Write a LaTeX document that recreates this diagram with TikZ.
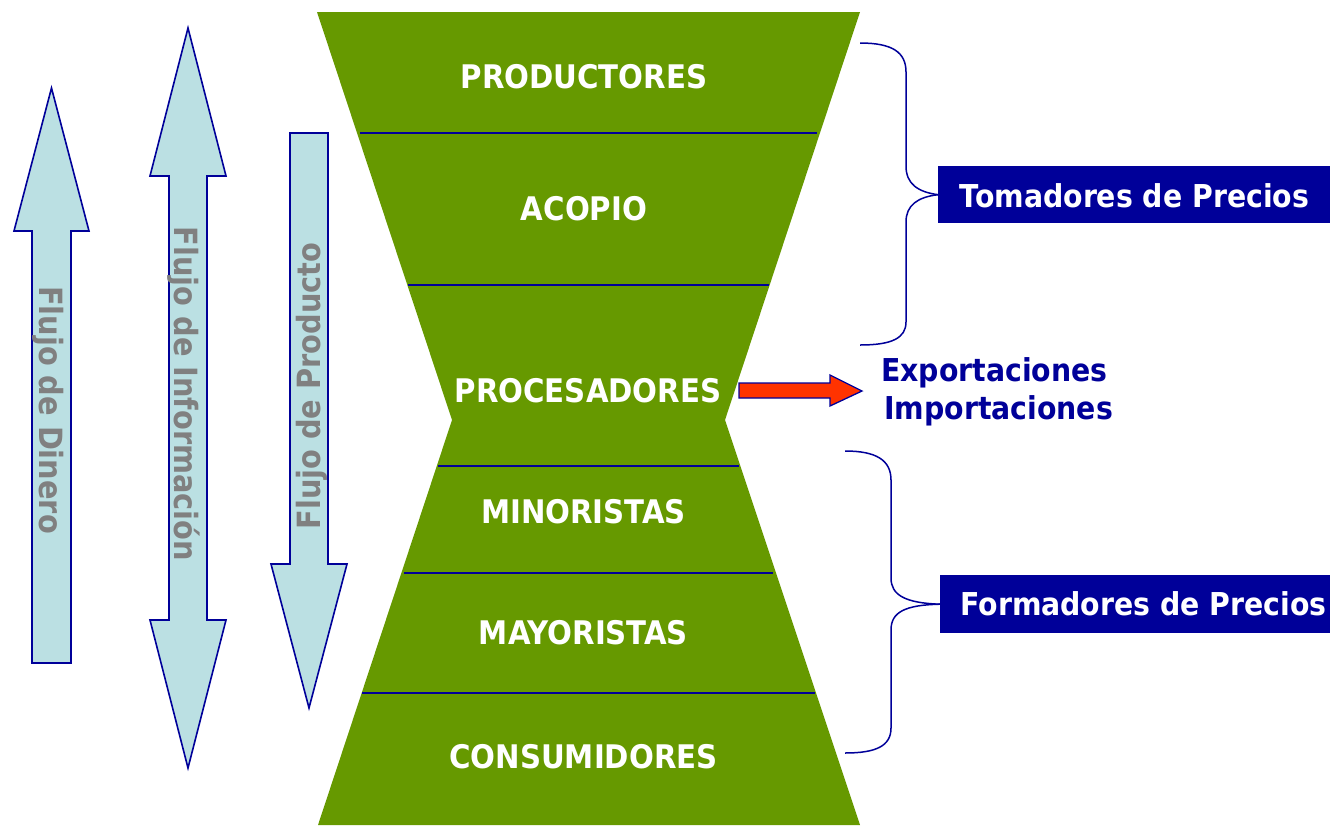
\documentclass[tikz,border=0pt]{standalone}
\usepackage{fontspec}
\setmainfont{DejaVu Sans Condensed}
\definecolor{hgreen}{HTML}{669900}
\definecolor{lblue}{HTML}{BBE0E3}
\definecolor{dblue}{HTML}{000099}
\definecolor{rred}{HTML}{FF3300}
\definecolor{ftgray}{HTML}{808080}
\tikzset{
  lab/.style={text=white, font=\bfseries\fontsize{32.5}{32.5}\selectfont, anchor=base, inner sep=0pt},
  flow/.style={fill=lblue, draw=dblue, line width=1.6pt, line join=miter},
  flowtxt/.style={text=ftgray, font=\bfseries\fontsize{32}{32}\selectfont, inner sep=0pt},
  divline/.style={draw=dblue, line width=1.8pt},
  bracel/.style={draw=dblue, line width=1.5pt},
  pbox/.style={fill=dblue, minimum width=392pt, minimum height=57pt, inner sep=0pt, anchor=north west},
  ptxt/.style={text=white, font=\bfseries\fontsize{31.5}{31.5}\selectfont, anchor=base, inner sep=0pt},
  etxt/.style={text=dblue, font=\bfseries\fontsize{31.5}{31.5}\selectfont, anchor=base west, inner sep=0pt},
}
\begin{document}
\begin{tikzpicture}[x=1pt,y=-1pt]
\useasboundingbox (0,0) rectangle (1330,825);
% hourglass
\fill[hgreen] (317,12) -- (860,12) -- (725,420) -- (860,825) -- (318,825) -- (452,420) -- cycle;
\draw[divline] (360,133) -- (817,133);
\draw[divline] (408,285) -- (769,285);
\draw[divline] (438,466) -- (739,466);
\draw[divline] (404,573) -- (773,573);
\draw[divline] (362,693) -- (815,693);
\node[lab] (prod) at (584,88) {PRODUCTORES};
\node[lab] (acop) at (584,220) {ACOPIO};
\node[lab] (proc) at (588,402) {PROCESADORES};
\node[lab] (mino) at (583.5,523) {MINORISTAS};
\node[lab] (mayo) at (583.5,644) {MAYORISTAS};
\node[lab] (cons) at (583.5,768) {CONSUMIDORES};
% flow arrows
\draw[flow] (51.5,88) -- (89,231) -- (71,231) -- (71,663) -- (32,663) -- (32,231) -- (14,231) -- cycle;
\draw[flow] (188,28) -- (226,176) -- (207,176) -- (207,620) -- (226,620) -- (188,768) -- (150,620) -- (169,620) -- (169,176) -- (150,176) -- cycle;
\draw[flow] (290,133) -- (328,133) -- (328,564) -- (347,564) -- (309,708) -- (271,564) -- (290,564) -- cycle;
\node[flowtxt, rotate=-90] (fdin) at (48,410) {Flujo de Dinero};
\node[flowtxt, rotate=-90] (finf) at (184,394) {Flujo de Información};
\node[flowtxt, rotate=90] (fpro) at (312,386) {Flujo de Producto};
% red arrow
\draw[fill=rred, draw=dblue, line width=1.3pt] (739,383) -- (830,383) -- (830,375) -- (862,391) -- (830,406) -- (830,398) -- (739,398) -- cycle;
\node[etxt] (expo) at (881,381) {Exportaciones};
\node[etxt] (impo) at (884,419) {Importaciones};
% boxes
\node[pbox] (tom) at (938,166) {};
\node[ptxt] (tomt) at (1134.5,207) {Tomadores de Precios};
\node[pbox, minimum height=58pt] (for) at (940,575) {};
\node[ptxt] (fort) at (1143.5,615) {Formadores de Precios};
% braces
\draw[bracel] (860,43) .. controls (892,43) and (906,52) .. (906,72) -- (906,166) .. controls (906,184) and (918,192) .. (tom.west);
\draw[bracel] (tom.west) .. controls (918,197) and (906,205) .. (906,222) -- (906,322) .. controls (906,338) and (892,345) .. (860,345);
\draw[bracel] (845,451) .. controls (876,451) and (891,460) .. (891,480) -- (891,578) .. controls (891,595) and (905,603) .. (for.west);
\draw[bracel] (for.west) .. controls (905,605) and (891,612) .. (891,630) -- (891,728) .. controls (891,746) and (876,753) .. (845,753);
\end{tikzpicture}
\end{document}
